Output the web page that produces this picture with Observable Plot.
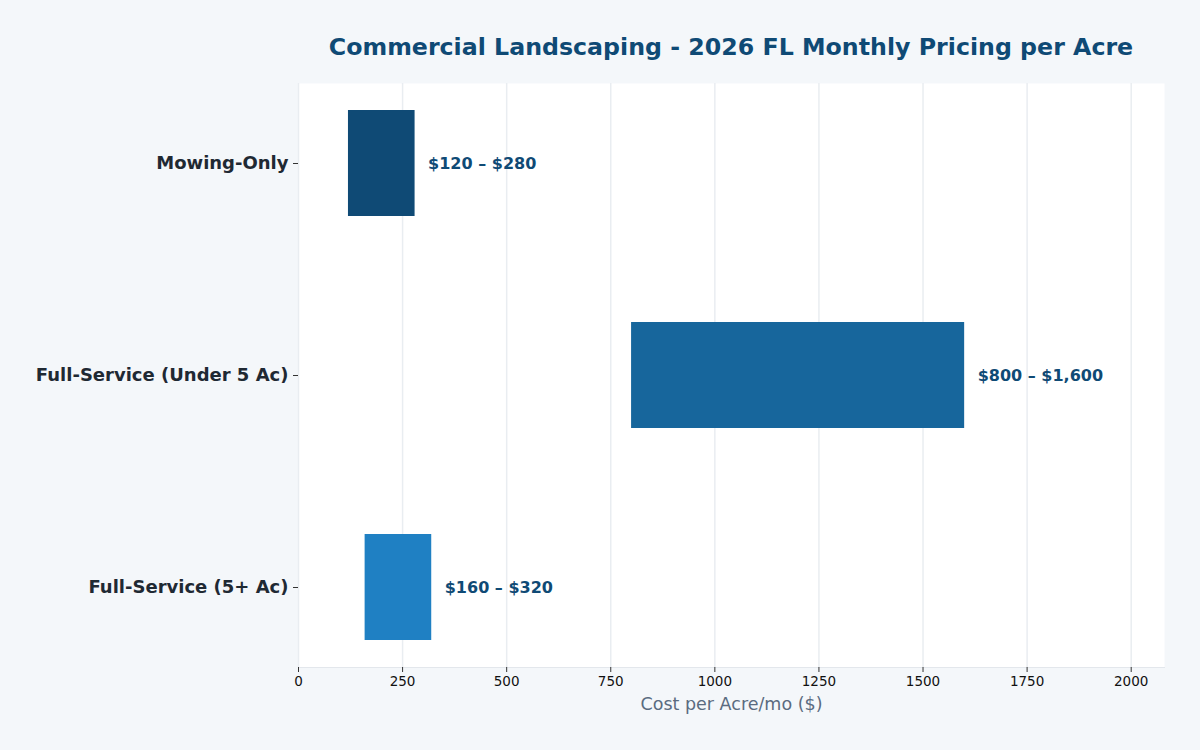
<!DOCTYPE html>
<html>
<head>
<meta charset="utf-8">
<script src="https://cdn.jsdelivr.net/npm/d3@7"></script>
<script src="https://cdn.jsdelivr.net/npm/@observablehq/plot@0.6"></script>
<style>
  html, body { margin: 0; padding: 0; background: #f4f7fa; }
  #wrap { width: 1200px; height: 750px; position: relative; }
  #title {
    height: 83px; width: 1200px; box-sizing: border-box;
    padding-left: 298px; padding-right: 36px;
    text-align: center; font-family: "DejaVu Sans", sans-serif;
    font-weight: bold; font-size: 23.7px; color: #0f4a75; line-height: 95px;
  }
  svg { display: block; }
</style>
</head>
<body>
<div id="wrap">
  <div id="title">Commercial Landscaping - 2026 FL Monthly Pricing per Acre</div>
  <div id="chart"></div>
</div>
<script>
// Monthly cost ranges per acre, by service tier
const categories = ["Mowing-Only", "Full-Service (Under 5 Ac)", "Full-Service (5+ Ac)"];
const lows = [120, 800, 160];
const highs = [280, 1600, 320];
const colors = ["#0f4a75", "#17669c", "#1f80c3"];
const xTicks = [0, 250, 500, 750, 1000, 1250, 1500, 1750, 2000];
const xLabel = "Cost per Acre/mo ($)";

const money = d3.format(",");
const rows = categories.map((c, i) => ({
  category: c,
  low: lows[i],
  high: highs[i],
  color: colors[i],
  label: `$${money(lows[i])} – $${money(highs[i])}`
}));

const chart = Plot.plot({
  width: 1200,
  height: 667,
  marginLeft: 298,
  marginRight: 36,
  marginTop: 0,
  marginBottom: 83,
  style: { background: "transparent", overflow: "visible" },
  x: { domain: [0, d3.max(highs) * 1.3], ticks: xTicks, tickFormat: d => String(d) },
  y: { domain: categories, paddingInner: 0.5, paddingOuter: 0.124 },
  marks: [
    Plot.frame({ fill: "white", stroke: null }),
    Plot.gridX(xTicks, { stroke: "#e9edf1", strokeOpacity: 1, strokeWidth: 1.5 }),
    Plot.frame({ anchor: "bottom", stroke: "#e3e7ec" }),
    Plot.barX(rows, { x1: "low", x2: "high", y: "category", fill: "color" }),
    Plot.text(rows, {
      x: "high", y: "category", text: "label", dx: 13, textAnchor: "start",
      fill: "#0f4a75", fontWeight: "bold", fontSize: 16,
      fontFamily: "DejaVu Sans"
    }),
    Plot.axisX(xTicks, {
      label: null, tickSize: 5, tickPadding: 4, tickFormat: d => String(d),
      fontSize: 13.5, fontFamily: "DejaVu Sans", fill: "#111", stroke: "#333"
    }),
    Plot.axisY({
      label: null, tickSize: 5, tickPadding: 5,
      fontSize: 18, fontWeight: "bold", fontFamily: "DejaVu Sans",
      fill: "#1f2933", stroke: "#333"
    }),
    Plot.text([xLabel], {
      frameAnchor: "bottom", dy: 42, text: d => d,
      fill: "#5a6b80", fontSize: 17.5, fontFamily: "DejaVu Sans"
    })
  ]
});
document.getElementById("chart").appendChild(chart);
</script>
</body>
</html>
